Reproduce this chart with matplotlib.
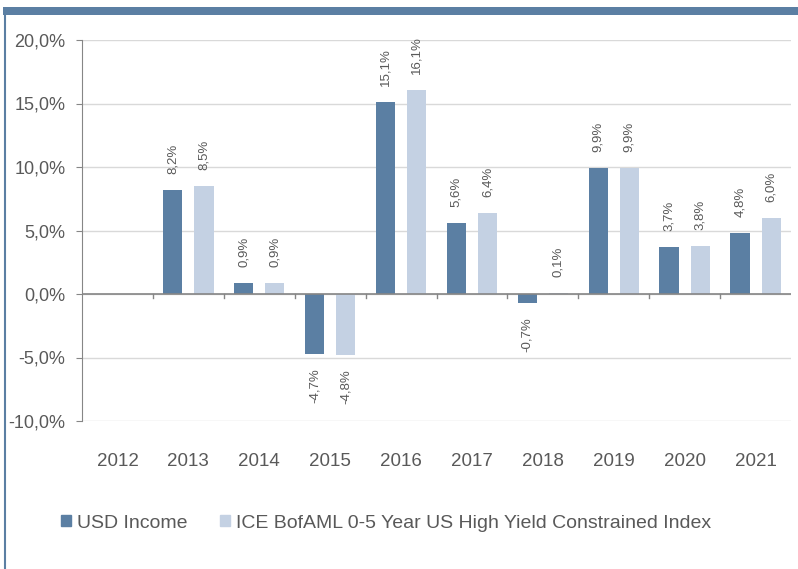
import matplotlib
matplotlib.use("Agg")
import matplotlib.pyplot as plt
from matplotlib.patches import Rectangle
from matplotlib.lines import Line2D
import numpy as np

years = ["2012", "2013", "2014", "2015", "2016", "2017", "2018", "2019", "2020", "2021"]
usd_income = [None, 8.2, 0.9, -4.7, 15.1, 5.6, -0.7, 9.9, 3.7, 4.8]
ice_index = [None, 8.5, 0.9, -4.8, 16.1, 6.4, 0.1, 9.9, 3.8, 6.0]
series_names = ["USD Income", "ICE BofAML 0-5 Year US High Yield Constrained Index"]
yticks = [-10, -5, 0, 5, 10, 15, 20]

dark = "#5b7fa3"
light = "#c4d1e3"
txt = "#595959"

fig = plt.figure(figsize=(7.98, 5.69), dpi=100)
plt.rcParams['font.family'] = ['Liberation Sans', 'DejaVu Sans']

# frame decorations
fig.add_artist(Rectangle((3/798, 1-15/569), 1, 8/569, transform=fig.transFigure,
                         color=dark, lw=0))
fig.add_artist(Line2D([4.5/798, 4.5/798], [0, 1-15/569], transform=fig.transFigure,
                      color=dark, lw=1.5))

ax = fig.add_axes([82/798, 1-421/569, (791-82)/798, (421-40)/569])
x = np.arange(len(years))
w = 0.27
off = 0.22

def fmt(v):
    return f"{v:.1f}%".replace(".", ",")

for vals, col, sgn in [(usd_income, dark, -1), (ice_index, light, 1)]:
    xs = [xi + sgn*off for xi, v in zip(x, vals) if v is not None]
    vs = [v for v in vals if v is not None]
    ax.bar(xs, vs, width=w, color=col, zorder=3)
    for xi, v in zip(xs, vs):
        if v >= 0:
            ax.annotate(fmt(v), (xi, v), xytext=(0, 11.5), textcoords="offset points",
                        rotation=90, ha="center", va="bottom", fontsize=9.5, color=txt)
        else:
            ax.annotate(fmt(v), (xi, v), xytext=(0, -10.5), textcoords="offset points",
                        rotation=90, ha="center", va="top", fontsize=9.5, color=txt)

ax.set_xlim(-0.5, len(years)-0.5)
ax.set_ylim(-10, 20)
ax.set_yticks(yticks)
ax.set_yticklabels([f"{t:.1f}%".replace(".", ",") for t in yticks], fontsize=13, color=txt)
ax.yaxis.grid(True, color="#d9d9d9", lw=1, zorder=0)
ax.set_axisbelow(True)
for s in ["top", "right", "bottom"]:
    ax.spines[s].set_visible(False)
ax.spines["left"].set_color("#868686")
ax.tick_params(axis="y", length=4, color="#868686", pad=8)

# zero axis with category ticks
ax.axhline(0, color="#868686", lw=1.2, zorder=4)
ax.set_xticks([])
for b in np.arange(0.5, len(years)-0.5, 1.0):
    ax.plot([b, b], [0, -0.35], color="#868686", lw=1, zorder=4, clip_on=False)
for xi, yr in zip(x, years):
    ax.text(xi, -13.15, yr, ha="center", va="center", fontsize=13.5, color=txt)

handles = [Rectangle((0, 0), 1, 1, color=dark), Rectangle((0, 0), 1, 1, color=light)]
fig.legend(handles, series_names, loc="center", bbox_to_anchor=(386/798, 1-523/569),
           ncol=2, frameon=False, fontsize=14, handlelength=0.5, handleheight=0.5,
           handletextpad=0.3, columnspacing=1.7, labelcolor=txt)

fig.savefig("out.png", dpi=100)
